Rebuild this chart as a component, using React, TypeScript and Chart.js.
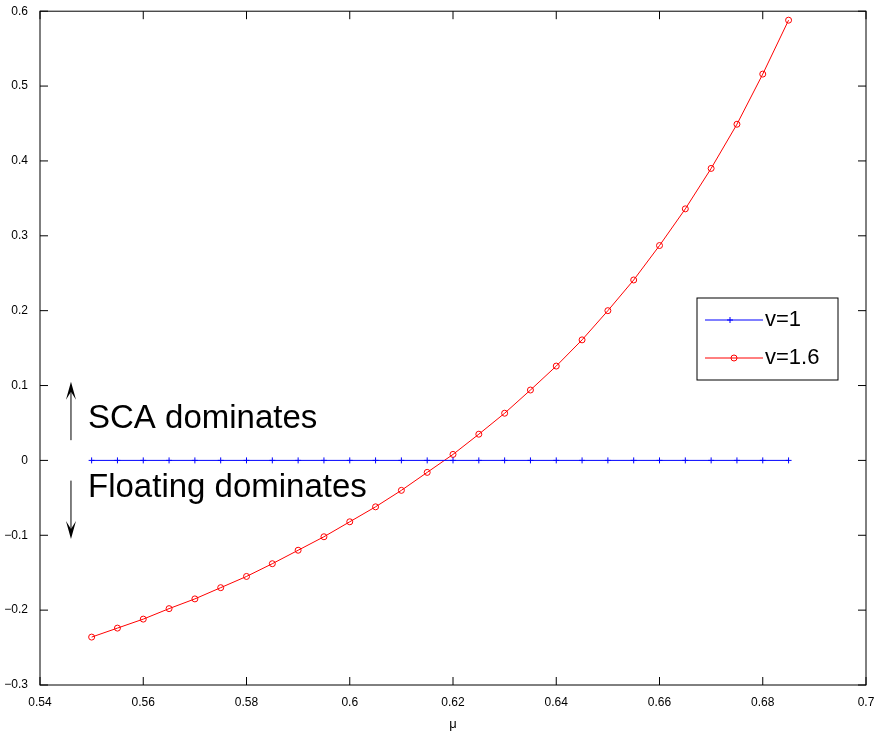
import React, { useEffect, useRef } from 'react';
import { Chart, registerables } from 'chart.js';

Chart.register(...registerables);

const muValues = [
  0.55, 0.555, 0.56, 0.565, 0.57, 0.575, 0.58, 0.585, 0.59, 0.595, 0.6, 0.605, 0.61, 0.615,
  0.62, 0.625, 0.63, 0.635, 0.64, 0.645, 0.65, 0.655, 0.66, 0.665, 0.67, 0.675, 0.68, 0.685,
];
const v1Values = muValues.map(() => 0);
const v16Values = [
  -0.236, -0.224, -0.212, -0.198, -0.185, -0.17, -0.155, -0.138, -0.12, -0.102, -0.082, -0.062,
  -0.04, -0.016, 0.008, 0.035, 0.063, 0.094, 0.126, 0.161, 0.2, 0.241, 0.287, 0.336, 0.39,
  0.449, 0.516, 0.588,
];
const seriesLabels = ['v=1', 'v=1.6'];
const seriesColors = ['#0000ff', '#ff0000'];

const FONT = '"Liberation Sans", Arial, sans-serif';

const drawArrow = (ctx: CanvasRenderingContext2D, x: number, y0: number, y1: number) => {
  const dir = y1 < y0 ? -1 : 1;
  ctx.strokeStyle = '#000';
  ctx.fillStyle = '#000';
  ctx.lineWidth = 1;
  ctx.beginPath();
  ctx.moveTo(x, y0);
  ctx.lineTo(x, y1 - dir * 8);
  ctx.stroke();
  ctx.beginPath();
  ctx.moveTo(x, y1);
  ctx.lineTo(x - 5, y1 - dir * 18);
  ctx.lineTo(x, y1 - dir * 10);
  ctx.lineTo(x + 5, y1 - dir * 18);
  ctx.closePath();
  ctx.fill();
};

const framePlugin = {
  id: 'frame',
  afterDatasetsDraw(chart: any) {
    const { ctx, chartArea: a, scales } = chart;
    const x = scales.x;
    const y = scales.y;
    ctx.save();
    // frame and inward ticks
    ctx.strokeStyle = '#000';
    ctx.lineWidth = 1;
    ctx.strokeRect(a.left, a.top, a.right - a.left, a.bottom - a.top);
    ctx.beginPath();
    x.ticks.forEach((t: any) => {
      const px = x.getPixelForValue(t.value);
      ctx.moveTo(px, a.bottom); ctx.lineTo(px, a.bottom - 8);
      ctx.moveTo(px, a.top); ctx.lineTo(px, a.top + 8);
    });
    y.ticks.forEach((t: any) => {
      const py = y.getPixelForValue(t.value);
      ctx.moveTo(a.left, py); ctx.lineTo(a.left + 8, py);
      ctx.moveTo(a.right, py); ctx.lineTo(a.right - 8, py);
    });
    ctx.stroke();

    // annotations
    const ax = x.getPixelForValue(0.546);
    drawArrow(ctx, ax, y.getPixelForValue(0.027), y.getPixelForValue(0.105));
    drawArrow(ctx, ax, y.getPixelForValue(-0.027), y.getPixelForValue(-0.105));
    ctx.fillStyle = '#000';
    ctx.font = `33px ${FONT}`;
    ctx.textBaseline = 'middle';
    ctx.textAlign = 'left';
    ctx.fillText('SCA dominates', x.getPixelForValue(0.5493), y.getPixelForValue(0.055));
    ctx.fillText('Floating dominates', x.getPixelForValue(0.5493), y.getPixelForValue(-0.037));

    // legend
    const lx = 697, ly = 298, lw = 141, lh = 82;
    ctx.fillStyle = '#fff';
    ctx.fillRect(lx, ly, lw, lh);
    ctx.strokeRect(lx, ly, lw, lh);
    ctx.font = `22px ${FONT}`;
    [320, 358].forEach((yy, i) => {
      ctx.strokeStyle = seriesColors[i];
      ctx.beginPath();
      ctx.moveTo(lx + 8, yy); ctx.lineTo(lx + 66, yy);
      ctx.stroke();
      if (i === 0) {
        ctx.beginPath();
        ctx.moveTo(lx + 33, yy - 3); ctx.lineTo(lx + 33, yy + 3);
        ctx.moveTo(lx + 30, yy); ctx.lineTo(lx + 36, yy);
        ctx.stroke();
      } else {
        ctx.beginPath();
        ctx.arc(lx + 37, yy, 3, 0, Math.PI * 2);
        ctx.stroke();
      }
      ctx.fillStyle = '#000';
      ctx.fillText(seriesLabels[i], lx + 68, yy);
    });
    ctx.restore();
  },
};

export default function App() {
  const canvasRef = useRef<HTMLCanvasElement>(null);

  useEffect(() => {
    document.body.style.margin = '0';
    if (!canvasRef.current) return;
    const chart = new Chart(canvasRef.current, {
      type: 'line',
      data: {
        datasets: [
          {
            label: seriesLabels[0],
            data: muValues.map((m, i) => ({ x: m, y: v1Values[i] })),
            borderColor: seriesColors[0],
            borderWidth: 1,
            pointStyle: 'cross',
            pointRadius: 3,
            pointBorderColor: seriesColors[0],
            pointBorderWidth: 1,
            tension: 0,
          },
          {
            label: seriesLabels[1],
            data: muValues.map((m, i) => ({ x: m, y: v16Values[i] })),
            borderColor: seriesColors[1],
            borderWidth: 1,
            pointStyle: 'circle',
            pointRadius: 3,
            pointBackgroundColor: 'transparent',
            pointBorderColor: seriesColors[1],
            pointBorderWidth: 1,
            tension: 0,
          },
        ],
      },
      options: {
        animation: false,
        responsive: false,
        layout: { padding: { left: 0, right: 14, top: 10, bottom: 0 } },
        plugins: { legend: { display: false }, tooltip: { enabled: false } },
        scales: {
          x: {
            type: 'linear',
            min: 0.54,
            max: 0.7,
            afterFit: (s: any) => { s.height = 47; },
            ticks: {
              stepSize: 0.02,
              color: '#000',
              font: { family: FONT, size: 12 },
              padding: 2,
              callback: (v: any) => String(Math.round(v * 100) / 100),
            },
            grid: { display: false },
            border: { display: false },
            title: { display: true, text: 'μ', color: '#000', font: { family: FONT, size: 13 }, padding: 0 },
          },
          y: {
            min: -0.3,
            max: 0.6,
            afterFit: (s: any) => { s.width = 40; },
            ticks: {
              stepSize: 0.1,
              color: '#000',
              font: { family: FONT, size: 12 },
              padding: 4,
              callback: (v: any) => {
                const r = Math.round(v * 10) / 10;
                return r < 0 ? '\u2212' + String(-r) : String(r);
              },
            },
            grid: { display: false },
            border: { display: false },
          },
        },
      },
      plugins: [framePlugin],
    });
    return () => chart.destroy();
  }, []);

  return <canvas ref={canvasRef} width={880} height={732} style={{ display: 'block' }} />;
}
